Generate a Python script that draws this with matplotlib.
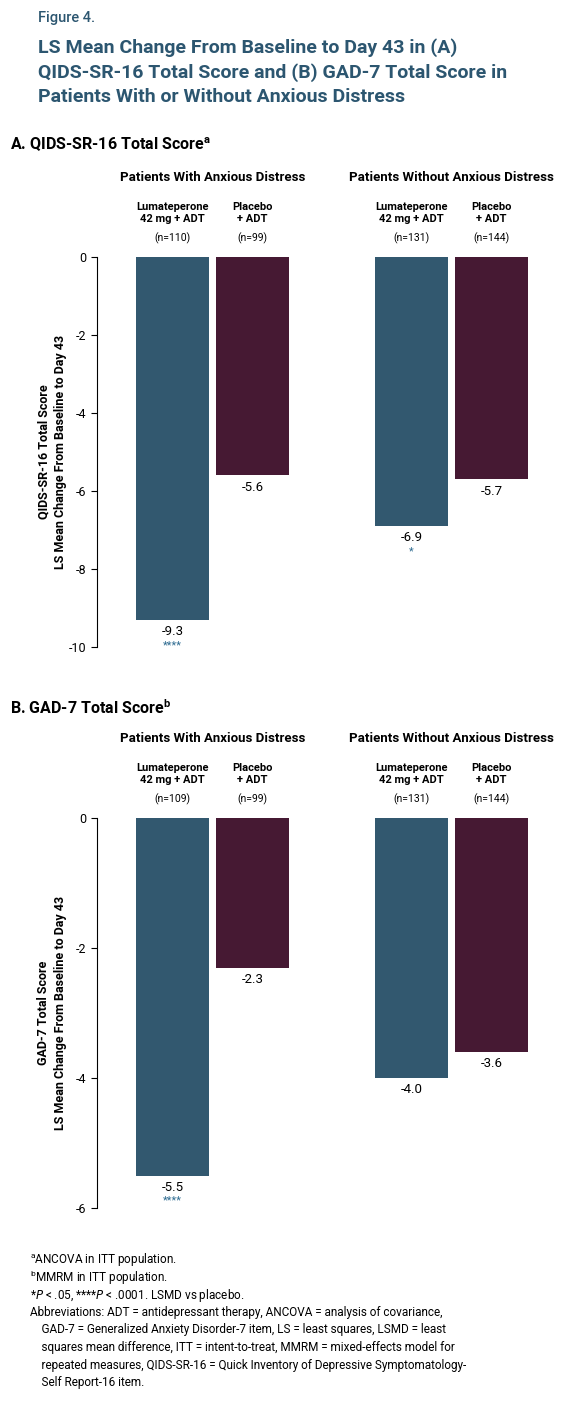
import matplotlib
matplotlib.use("Agg")
import matplotlib.pyplot as plt

plt.rcParams['font.family'] = ['Roboto', 'DejaVu Sans']

groups = ["Patients With Anxious Distress", "Patients Without Anxious Distress"]
arms = ["Lumateperone\n42 mg + ADT", "Placebo\n+ ADT"]
n_a = ["(n=110)", "(n=99)", "(n=131)", "(n=144)"]
n_b = ["(n=109)", "(n=99)", "(n=131)", "(n=144)"]
qids = [-9.3, -5.6, -6.9, -5.7]
gad = [-5.5, -2.3, -4.0, -3.6]
sig_a = ["****", "", "*", ""]
sig_b = ["****", "", "", ""]
pos = [1, 2, 4, 5]
colors = ["#32586f", "#461933", "#32586f", "#461933"]
W, H = 587, 1407
fig = plt.figure(figsize=(W/100, H/100), dpi=100)
title_c = "#2c5670"

def fy(y): return 1 - y/H
def fx(x): return x/W

fig.text(fx(38), fy(18), "Figure 4.", fontsize=10.5, color=title_c, va="center", fontweight="medium")
for i, t in enumerate(["LS Mean Change From Baseline to Day 43 in (A)",
                       "QIDS-SR-16 Total Score and (B) GAD-7 Total Score in",
                       "Patients With or Without Anxious Distress"]):
    fig.text(fx(38), fy(48 + i*24.5), t, fontsize=14, fontweight="bold", color=title_c, va="center")

def panel(top, bot, vals, ns, sigs, ymin, yticks, title, title_y, ylabel):
    fig.text(fx(10), fy(title_y), title, fontsize=11.5, fontweight="bold", va="center")
    ax = fig.add_axes([fx(97), fy(bot), fx(575-97), (bot-top)/H])
    ax.bar(pos, vals, width=0.92, color=colors)
    ax.set_ylim(ymin, 0)
    ax.set_xlim(0.05, 6.05)
    ax.set_yticks(yticks)
    ax.set_yticklabels([str(t) for t in yticks], fontsize=9)
    ax.set_xticks([])
    for s in ["top", "right", "bottom"]:
        ax.spines[s].set_visible(False)
    ax.tick_params(axis="y", direction="out", length=4)
    rng = -ymin
    for p, v, s in zip(pos, vals, sigs):
        ax.text(p, v - rng*0.03, f"{v:.1f}", ha="center", va="center", fontsize=9.5)
        if s:
            ax.text(p, v - rng*0.065, s, ha="center", va="center", fontsize=8, color="#2c6a90")
    for gi, g in enumerate(groups):
        cx = (pos[2*gi] + pos[2*gi+1]) / 2
        ax.text(cx, 1, g, transform=ax.get_xaxis_transform(), ha="center", va="center", fontsize=9.5, fontweight="bold")
    fig.texts  # noop
    for i, p in enumerate(pos):
        xf = fx(97) + (p - 0.05) / 6.0 * fx(575-97)
        fig.text(xf, fy(top-44), arms[i % 2], ha="center", va="center", fontsize=8, fontweight="bold", linespacing=1.2)
        fig.text(xf, fy(top-19), ns[i], ha="center", va="center", fontsize=7.5)
    ax.texts[-2].set_position((1.5, 1 + 80/(bot-top)))
    ax.texts[-1].set_position((4.5, 1 + 80/(bot-top)))
    fig.text(fx(52), fy((top+bot)/2), ylabel, rotation=90, ha="center", va="center", fontsize=9, fontweight="bold", linespacing=1.4)

panel(257, 647, qids, n_a, sig_a, -10, [0, -2, -4, -6, -8, -10], "A. QIDS-SR-16 Total Score$^{\\mathregular{a}}$", 145,
      "QIDS-SR-16 Total Score\nLS Mean Change From Baseline to Day 43")
panel(818, 1208, gad, n_b, sig_b, -6, [0, -2, -4, -6], "B. GAD-7 Total Score$^{\\mathregular{b}}$", 708,
      "GAD-7 Total Score\nLS Mean Change From Baseline to Day 43")

foot = ["$^{\\mathregular{a}}$ANCOVA in ITT population.",
        "$^{\\mathregular{b}}$MMRM in ITT population.",
        "*$P$ < .05, ****$P$ < .0001. LSMD vs placebo.",
        "Abbreviations: ADT = antidepressant therapy, ANCOVA = analysis of covariance,",
        "    GAD-7 = Generalized Anxiety Disorder-7 item, LS = least squares, LSMD = least",
        "    squares mean difference, ITT = intent-to-treat, MMRM = mixed-effects model for",
        "    repeated measures, QIDS-SR-16 = Quick Inventory of Depressive Symptomatology-",
        "    Self Report-16 item."]
for i, t in enumerate(foot):
    fig.text(fx(30), fy(1260 + i*17.5), t, fontsize=8.5, va="center")

fig.savefig("out.png", dpi=100)
